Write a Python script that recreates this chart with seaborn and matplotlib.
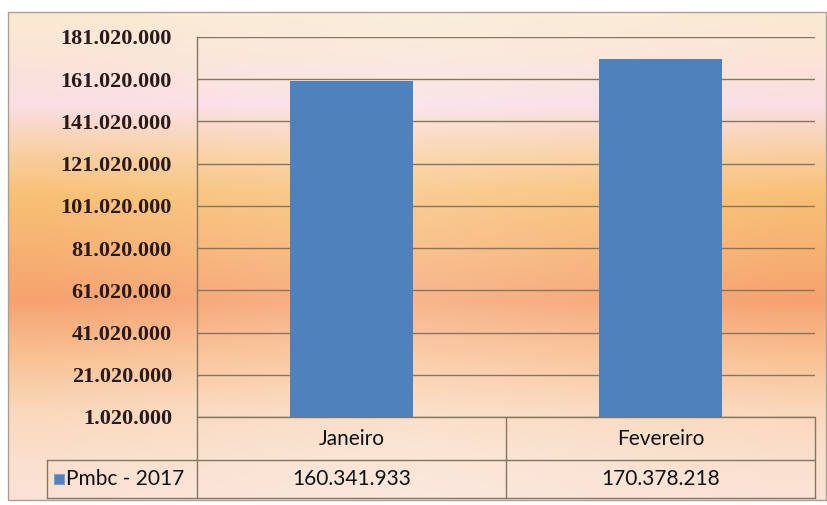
import numpy as np
import pandas as pd
import matplotlib
matplotlib.use("Agg")
import matplotlib.pyplot as plt
import seaborn as sns
from matplotlib.patches import Rectangle
from matplotlib.lines import Line2D
from matplotlib.ticker import FuncFormatter

# ---- data ----
categories = ["Janeiro", "Fevereiro"]
values = [160341933, 170378218]
series_name = "Pmbc - 2017"
y_min = 1020000
y_max = 181020000
y_step = 20000000

W, H = 827, 505
DPI = 100

sns.set_theme(style="white")
plt.rcParams['font.family'] = ['DejaVu Sans']

fig = plt.figure(figsize=(W / DPI, H / DPI), dpi=DPI)
fig.patch.set_facecolor("white")

def fx(px):
    return px / W

def fy(py):
    return 1 - py / H

# ---- background gradient ----
stops_y = [12, 60, 105, 150, 195, 250, 300, 360, 410, 460, 500]
stops_c = [(250, 234, 210), (250, 228, 215), (250, 222, 228), (249, 208, 165),
           (248, 192, 118), (247, 178, 114), (246, 162, 112), (249, 195, 150),
           (250, 216, 188), (250, 224, 205), (250, 226, 215)]
ys = np.arange(12, 500)
cols = np.array([[np.interp(ys, stops_y, [c[i] for c in stops_c]) for i in range(3)]]).squeeze().T / 255.0
xs = np.linspace(-1, 1, 818)
light = 0.2 * np.clip(1 - np.abs(xs) * 1.1, 0, 1)
img = cols[:, None, :] * (1 - light[None, :, None]) + light[None, :, None] * 1.0
img = np.clip(img, 0, 1)
bg = fig.add_axes([fx(8), fy(500), fx(818), (500 - 12) / H])
bg.imshow(img, aspect="auto", extent=[0, 1, 0, 1], interpolation="bilinear")
bg.set_axis_off()
bg.set_zorder(-10)
fig.add_artist(Rectangle((fx(8), fy(500)), fx(818), (500 - 12) / H, transform=fig.transFigure,
                         fill=False, edgecolor="#a8a090", linewidth=1.0, zorder=5))

# ---- main axes ----
L, R, T, B = 197, 815, 37, 417
ax = fig.add_axes([fx(L), fy(B), fx(R - L), (B - T) / H])
ax.patch.set_alpha(0)
df = pd.DataFrame({"Mes": categories, "Valor": values})
sns.barplot(data=df, x="Mes", y="Valor", ax=ax, color="#4F81BD", saturation=1,
            width=0.395, edgecolor="none", zorder=3)
ax.set_ylim(y_min, y_max)
ax.set_yticks(np.arange(y_min, y_max + 1, y_step))
ax.yaxis.set_major_formatter(FuncFormatter(lambda v, p: f"{int(round(v)):,}".replace(",", ".")))
ax.grid(axis="y", color="#85765f", linewidth=1.0, zorder=1)
ax.set_axisbelow(True)
for s in ["top", "right", "bottom"]:
    ax.spines[s].set_visible(False)
ax.spines["left"].set_color("#85765f")
ax.spines["left"].set_linewidth(1.0)
ax.set_xlabel("")
ax.set_ylabel("")
ax.set_xticklabels([])
ax.tick_params(axis="x", length=0)
ax.tick_params(axis="y", length=0, pad=18)
for lab in ax.get_yticklabels():
    lab.set_fontfamily("Liberation Serif")
    lab.set_fontweight("bold")
    lab.set_fontsize(16)
    lab.set_color("#2a1a1a")

# ---- data table ----
lc = "#85765f"
def hline(y, x0, x1):
    fig.add_artist(Line2D([fx(x0), fx(x1)], [fy(y), fy(y)], transform=fig.transFigure, color=lc, lw=1.0))
def vline(x, y0, y1):
    fig.add_artist(Line2D([fx(x), fx(x)], [fy(y0), fy(y1)], transform=fig.transFigure, color=lc, lw=1.0))

mid = 506
hline(417, L, R)
hline(460, 47, R)
hline(498, 47, R)
vline(L, 417, 498)
vline(mid, 417, 498)
vline(R, 417, 498)
vline(47, 460, 498)

tfont = dict(family="Lato", fontsize=15, color="#111111", ha="center", va="center")
col_centers = [(L + mid) / 2, (mid + R) / 2]
for c, cat, v in zip(col_centers, categories, values):
    fig.text(fx(c), fy(439), cat, **tfont)
    fig.text(fx(c), fy(479), f"{v:,}".replace(",", "."), **tfont)

fig.add_artist(Rectangle((fx(54), fy(484)), fx(10), 10 / H, transform=fig.transFigure,
                         facecolor="#4F81BD", edgecolor="#7f9fcf", lw=0.8))
fig.text(fx(66), fy(479), series_name, family="Lato", fontsize=15, color="#111111", ha="left", va="center")

fig.savefig("out.png", dpi=DPI)
